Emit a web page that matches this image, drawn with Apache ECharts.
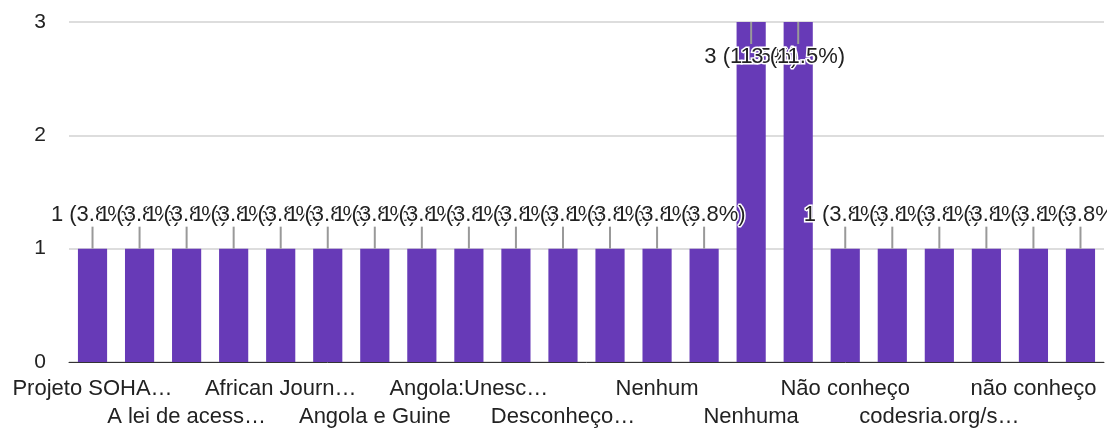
<!DOCTYPE html>
<html>
<head>
<meta charset="utf-8">
<script src="https://cdn.jsdelivr.net/npm/echarts@6/dist/echarts.min.js"></script>
<style>
  html, body { margin: 0; padding: 0; background: #fff; }
  #chart-container { width: 1107px; height: 430px; }
</style>
</head>
<body>
<div id="chart-container"></div>
<script>
// answers as they appear on the axis (every other one is hidden by the axis)
const categories = [
  'Projeto SOHA…', 'A Lei de Acesso…', 'A lei de acess…', 'AJOL…',
  'African Journ…', 'Angola…', 'Angola e Guine', 'Angola: Unesco…',
  'Angola:Unesc…', 'CODESRIA…', 'Desconheço…', 'Desconheço',
  'Nenhum', 'Nenhum.', 'Nenhuma', 'Não',
  'Não conheço', 'Não sei', 'codesria.org/s…', 'nenhum',
  'não conheço', 'não sei'
];
const values = [1, 1, 1, 1, 1, 1, 1, 1, 1, 1, 1, 1, 1, 1, 3, 3, 1, 1, 1, 1, 1, 1];
const yTicks = [0, 1, 2, 3];

const total = values.reduce((a, b) => a + b, 0);
const labelText = v => v + ' (' + (v / total * 100).toFixed(1) + '%)';
const font = '"Liberation Sans", Arial, sans-serif';
const yMax = yTicks[yTicks.length - 1];

const chartDom = document.getElementById('chart-container');
const myChart = echarts.init(chartDom);

const barData = values.map(function (v) {
  if (v >= yMax) {
    return { value: v, label: { position: 'insideTop', distance: 24 } };
  }
  return v;
});

// two stacked rows of category labels: row 0 shows 0,4,8..., row 1 shows 2,6,10...
function rowAxis(row) {
  return {
    type: 'category',
    data: categories,
    position: 'bottom',
    offset: row * 28,
    axisLine: row === 0 ? { lineStyle: { color: '#333', width: 1 } } : { show: false },
    axisTick: { show: false },
    splitLine: { show: false },
    axisLabel: {
      interval: function (index) { return index % 4 === row * 2; },
      hideOverlap: false,
      margin: 16,
      fontSize: 22,
      color: '#222',
      fontFamily: font
    }
  };
}

const option = {
  animation: false,
  grid: { left: 69, right: 3, top: 22, bottom: 68, containLabel: false },
  xAxis: [rowAxis(0), rowAxis(1)],
  yAxis: {
    type: 'value',
    min: 0,
    max: yMax,
    interval: 1,
    axisLine: { show: false },
    axisTick: { show: false },
    axisLabel: { fontSize: 21, color: '#222', margin: 23, fontFamily: font },
    splitLine: { lineStyle: { color: '#ddd', width: 2 } }
  },
  series: [
    {
      type: 'bar',
      xAxisIndex: 0,
      data: barData,
      barWidth: '62%',
      itemStyle: { color: '#673ab7' },
      label: {
        show: true,
        position: 'top',
        distance: 23,
        fontSize: 22,
        color: '#222',
        fontFamily: font,
        textBorderColor: '#fff',
        textBorderWidth: 3,
        formatter: function (p) { return labelText(p.value); }
      }
    },
    {
      // leader lines from bar top to its label
      type: 'custom',
      xAxisIndex: 0,
      z: 3,
      silent: true,
      data: values.map((v, i) => [i, v]),
      renderItem: function (params, api) {
        const v = api.value(1);
        const p = api.coord([api.value(0), v]);
        const dir = v >= yMax ? 1 : -1;
        return {
          type: 'line',
          shape: { x1: p[0], y1: p[1], x2: p[0], y2: p[1] + dir * 22 },
          style: { stroke: '#999', lineWidth: 2 }
        };
      }
    }
  ]
};
myChart.setOption(option);
window.addEventListener('resize', function () {
  myChart.resize();
});
</script>
</body>
</html>
